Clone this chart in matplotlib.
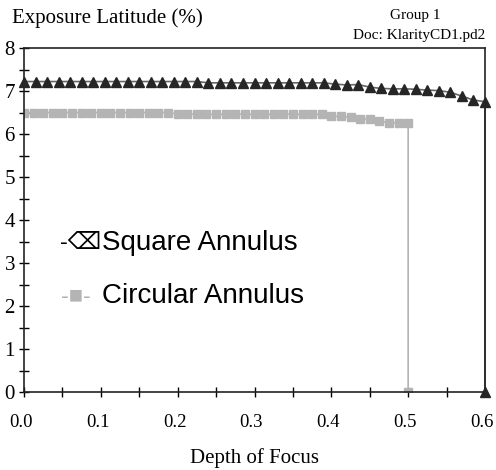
import matplotlib
matplotlib.use("Agg")
import matplotlib.pyplot as plt
import matplotlib.transforms as mtransforms
import numpy as np

# Square annulus: 41 points, step 0.015, then drop to 0 at 0.6
sq_x = [round(i * 0.015, 4) for i in range(41)] + [0.6]
sq_y = [7.22] * 16 + [7.19] * 11 + [7.16, 7.14, 7.15, 7.09, 7.06, 7.05, 7.05, 7.04,
                                     7.02, 7.01, 6.97, 6.88, 6.79, 6.75] + [0.0]

# Circular annulus: 41 points, step 0.0125, then drop to 0 at 0.5
ci_x = [round(i * 0.0125, 4) for i in range(41)] + [0.5]
ci_y = [6.50] * 16 + [6.46] * 16 + [6.41, 6.41, 6.39, 6.35, 6.35, 6.30,
                                    6.26, 6.26, 6.26] + [0.0]

xticks = [0.0, 0.1, 0.2, 0.3, 0.4, 0.5, 0.6]
xlabels = ["0.0", "0.1", "0.2", "0.3", "0.4", "0.5", "0.6"]
yticks = [0, 1, 2, 3, 4, 5, 6, 7, 8]

serif = "Liberation Serif"
sans = ["Liberation Sans", "DejaVu Sans"]

W, H = 496, 470
fig = plt.figure(figsize=(W / 100, H / 100), dpi=100)
ax = fig.add_axes([24 / W, 78 / H, 461 / W, 344 / H])

ax.plot(ci_x, ci_y, color="#b4b4b4", lw=1.2, marker="s", ms=5.5,
        mfc="#b4b4b4", mec="#b4b4b4", zorder=2)
ax.plot(sq_x, sq_y, color="#666666", lw=1.2, marker="^", ms=7.5,
        mfc="#262626", mec="#262626", zorder=3, clip_on=False)
# the vertical drop line at 0.6 is dark
ax.plot([0.6, 0.6], [sq_y[-2], 0], color="#262626", lw=1.2, zorder=3, clip_on=False)

ax.set_xlim(0, 0.6)
ax.set_ylim(0, 8)
ax.set_xticks(xticks)
ax.set_xticklabels(xlabels, fontfamily=serif, fontsize=13.5)
ax.set_xticks(np.arange(0.05, 0.6, 0.1), minor=True)
ax.set_yticks(yticks)
ax.set_yticklabels([str(v) for v in yticks], fontfamily=serif, fontsize=15)
ax.set_yticks(np.arange(0.5, 8, 1.0), minor=True)
ax.tick_params(which="both", direction="inout", length=7, width=1)
ax.tick_params(axis="x", pad=12)
ax.tick_params(axis="y", pad=3)
for s in ax.spines.values():
    s.set_linewidth(1.2)
    s.set_color("#222222")

# x tick labels sit a little left of their ticks in the original
shift = mtransforms.ScaledTranslation(-3 / 100, 0, fig.dpi_scale_trans)
for lab in ax.get_xticklabels():
    lab.set_transform(lab.get_transform() + shift)

ax.set_xlabel("Depth of Focus", fontfamily=serif, fontsize=15, labelpad=13)

fig.text(12 / W, 1 - 18 / H, "Exposure Latitude (%)", fontfamily=serif,
         fontsize=15, va="center", ha="left")
fig.text(415 / W, 1 - 15 / H, "Group 1", fontfamily=serif, fontsize=11,
         va="center", ha="center")
fig.text(485 / W, 1 - 35 / H, "Doc: KlarityCD1.pd2", fontfamily=serif,
         fontsize=11, va="center", ha="right")


def ax_xy(px, py):
    # pixel position in the figure -> axes fraction
    return (px - 24) / 461, (392 - py) / 344


# legend drawn as text
ax.text(*ax_xy(60, 243), "-\u232b", transform=ax.transAxes, fontfamily=sans,
        fontsize=17, va="center", ha="left", color="black")
ax.text(*ax_xy(102, 243), "Square Annulus", transform=ax.transAxes,
        fontfamily=sans, fontsize=20, va="center", ha="left", color="black")
ax.text(*ax_xy(61, 296), "-\u25a0-", transform=ax.transAxes, fontfamily=sans,
        fontsize=17, va="center", ha="left", color="#b4b4b4")
ax.text(*ax_xy(102, 296), "Circular Annulus", transform=ax.transAxes,
        fontfamily=sans, fontsize=20, va="center", ha="left", color="black")

fig.savefig("out.png", dpi=100)
